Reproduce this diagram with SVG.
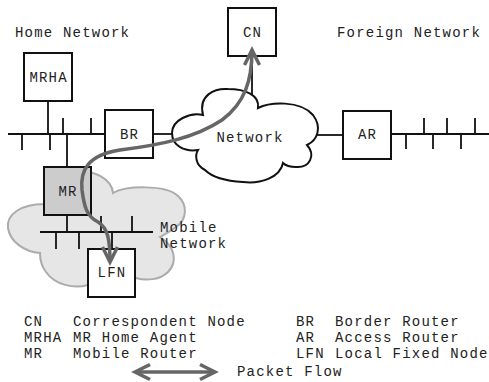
<svg xmlns="http://www.w3.org/2000/svg" width="489" height="382" viewBox="0 0 489 382">
<style>
  text { font-family: "Liberation Mono", "DejaVu Sans Mono", monospace; font-size: 14px; letter-spacing: 1.2px; fill: #222; }
  .box { fill: #fff; stroke: #111; stroke-width: 2; }
  .ln { stroke: #111; stroke-width: 1.8; fill: none; }
  .mid { text-anchor: middle; }
  .flow { stroke: #666; stroke-width: 3.5; fill: none; }
</style>
<defs>
  <marker id="ah" markerUnits="userSpaceOnUse" viewBox="-20 -12 24 24" refX="0" refY="0" markerWidth="24" markerHeight="24" orient="auto-start-reverse">
    <path d="M-15,-7.5 L0,0 L-15,7.5" fill="none" stroke="#666" stroke-width="3.5" stroke-linejoin="miter"/>
  </marker>
</defs>
<rect width="489" height="382" fill="#fff"/>

<g id="mobile-network-cloud">
  <path d="M70,172 C95,168 112,180 113,193 C125,186 165,184 178,196 C188,205 187,220 176,227 C171,231 165,234 160,237 C175,246 178,262 168,272 C160,280 146,281 136,278 L88,285 C74,289 55,285 46,272 C42,267 40,259 40,253 C25,252 10,242 8,228 C6,214 22,204 44,204 Z" fill="#e6e6e6" stroke="#ababab" stroke-width="2"/>
</g>

<g id="connectors">
  <line class="ln" x1="8" y1="134" x2="105" y2="134"/>
  <line class="ln" x1="22" y1="134" x2="22" y2="150"/>
  <line class="ln" x1="50" y1="134" x2="50" y2="150"/>
  <line class="ln" x1="63" y1="118" x2="63" y2="134"/>
  <line class="ln" x1="91" y1="118" x2="91" y2="134"/>
  <line class="ln" x1="48" y1="101" x2="48" y2="134"/>
  <line class="ln" x1="67" y1="134" x2="67" y2="167"/>
  <line class="ln" x1="153" y1="134" x2="176" y2="134"/>
  <line class="ln" x1="252" y1="56" x2="252" y2="100"/>
  <line class="ln" x1="314" y1="135" x2="343" y2="135"/>
  <line class="ln" x1="392" y1="134" x2="489" y2="134"/>
  <line class="ln" x1="424" y1="118" x2="424" y2="134"/>
  <line class="ln" x1="447" y1="118" x2="447" y2="134"/>
  <line class="ln" x1="475" y1="118" x2="475" y2="134"/>
  <line class="ln" x1="406" y1="134" x2="406" y2="149"/>
  <line class="ln" x1="433" y1="134" x2="433" y2="149"/>
  <line class="ln" x1="461" y1="134" x2="461" y2="149"/>
  <line class="ln" x1="40" y1="232" x2="153" y2="232"/>
  <line class="ln" x1="101" y1="216" x2="101" y2="232"/>
  <line class="ln" x1="132" y1="216" x2="132" y2="232"/>
  <line class="ln" x1="56" y1="232" x2="56" y2="249"/>
  <line class="ln" x1="79" y1="232" x2="79" y2="249"/>
  <line class="ln" x1="67" y1="215" x2="67" y2="232"/>
  <line class="ln" x1="112" y1="232" x2="112" y2="249"/>
</g>

<g id="network">
  <path d="M203,115 C198,95 215,88 228,89 C245,89 260,95 258,108 C270,102 300,100 313,115 C322,127 318,140 307,145 C316,155 310,168 296,167 C290,167 285,165 283,163 C280,178 260,184 243,182 C225,181 212,177 205,170 C195,165 195,155 198,150 C185,152 172,146 172,133 C172,120 190,112 203,115 Z" fill="#fff" stroke="#111" stroke-width="2"/>
  <text x="250" y="142" class="mid">Network</text>
</g>

<g id="MRHA"><rect class="box" x="24" y="53" width="48" height="48"/><text x="48.6" y="82" class="mid">MRHA</text></g>
<g id="BR"><rect class="box" x="105" y="110" width="48" height="48"/><text x="129.6" y="139" class="mid">BR</text></g>
<g id="CN"><rect class="box" x="228" y="8" width="48" height="48"/><text x="252.6" y="37" class="mid">CN</text></g>
<g id="AR"><rect class="box" x="343" y="111" width="48" height="48"/><text x="367.6" y="139" class="mid">AR</text></g>
<g id="MR"><rect class="box" x="44" y="167" width="47" height="48" style="fill:#cccccc"/><text x="68" y="196" class="mid">MR</text></g>
<g id="LFN"><rect class="box" x="88" y="249" width="47" height="48"/><text x="112" y="277" class="mid">LFN</text></g>

<g id="labels">
  <text x="15" y="37">Home Network</text>
  <text x="337" y="37">Foreign Network</text>
  <text x="160" y="232">Mobile</text>
  <text x="160" y="248">Network</text>
</g>

<g id="packet-flow">
  <path class="flow" d="M110,262 C110,240 108,228 98,222 C86,216 84,205 82,190 C80,170 88,155 120,150 C160,145 195,138 222,120 C245,103 252,80 252,50" marker-start="url(#ah)" marker-end="url(#ah)"/>
</g>

<g id="legend">
  <text x="24" y="326">CN</text><text x="73" y="326">Correspondent Node</text>
  <text x="24" y="342">MRHA</text><text x="73" y="342">MR Home Agent</text>
  <text x="24" y="358">MR</text><text x="73" y="358">Mobile Router</text>
  <text x="296" y="326">BR</text><text x="335" y="326">Border Router</text>
  <text x="296" y="342">AR</text><text x="335" y="342">Access Router</text>
  <text x="296" y="358">LFN</text><text x="335" y="358">Local Fixed Node</text>
  <path class="flow" d="M135,372 L215,372" marker-start="url(#ah)" marker-end="url(#ah)"/>
  <text x="237" y="376">Packet Flow</text>
</g>
</svg>
